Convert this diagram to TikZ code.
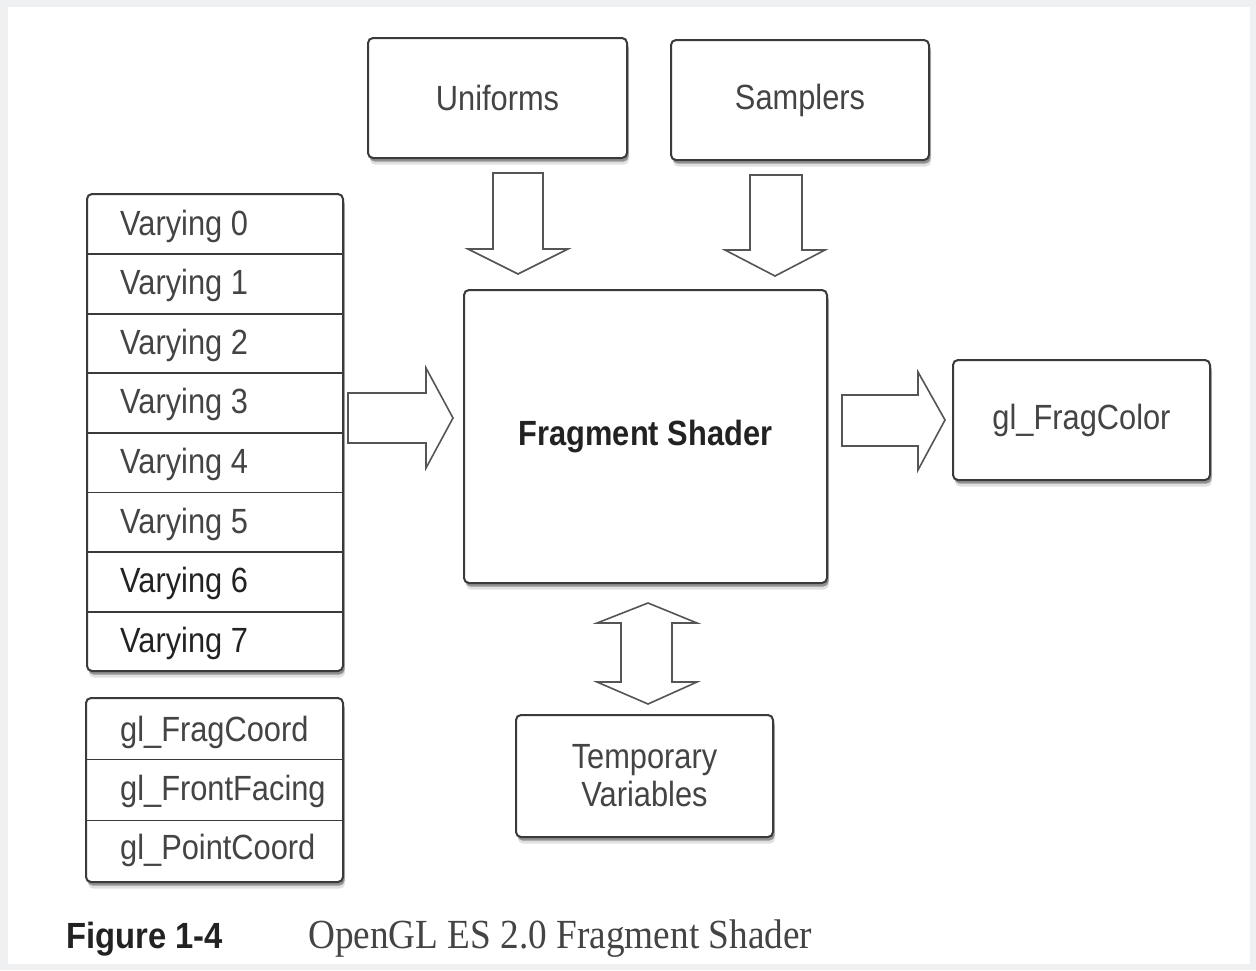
\documentclass[tikz,border=0pt]{standalone}
\usepackage{fontspec}
\setmainfont{Liberation Sans}
\newfontfamily\capserif[FakeStretch=0.9]{Liberation Serif}
\newfontfamily\capsans[FakeStretch=0.9]{Liberation Sans}
\newfontfamily\condsans[FakeStretch=0.88]{Liberation Sans}
\usetikzlibrary{shadows,calc}
\definecolor{bgout}{HTML}{EEF0F2}
\definecolor{boxline}{HTML}{3A3A3A}
\definecolor{arrline}{HTML}{555555}
\definecolor{txt}{HTML}{444444}
\definecolor{txtdark}{HTML}{222222}
\newcommand\boxfont{\condsans\fontsize{35}{38}\selectfont}
\tikzset{
  box/.style={draw=boxline, line width=2pt, rounded corners=5pt, fill=white, inner sep=0pt,
    text=txt, font=\boxfont, align=center,
    drop shadow={shadow xshift=2pt, shadow yshift=-6.5pt, opacity=0.12, fill=black},
    drop shadow={shadow xshift=1.5pt, shadow yshift=-3.5pt, opacity=0.35, fill=black}},
  rowcell/.style={draw=none, inner sep=0pt, anchor=north west},
  rowtext/.style={anchor=base west, inner sep=0pt, font=\boxfont},
  divline/.style={draw=boxline, line width=1.8pt},
  blk/.style={draw=arrline, line width=1.6pt, fill=white, line join=miter},
}
\begin{document}
\begin{tikzpicture}[x=1pt,y=-1pt]
\useasboundingbox (0,0) rectangle (1256,970);
\fill[bgout] (0,0) rectangle (1256,970);
\fill[white] (8,7) rectangle (1250,964);

% top boxes
\node[box, minimum width=259pt, minimum height=120pt] (unif) at (497.5,98) {Uniforms};
\node[box, minimum width=258pt, minimum height=120pt] (samp) at (800,100) {Samplers};

% fragment shader
\node[box, minimum width=363pt, minimum height=293pt, text=txtdark, font=\boxfont\bfseries] (frag) at (645.5,436.5) {Fragment Shader};

% output
\node[box, minimum width=257pt, minimum height=120pt] (fragcolor) at (1081.5,420) {gl\_FragColor};

% temporary
\node[box, minimum width=257pt, minimum height=122pt] (temp) at (644.5,776) {Temporary\\Variables};

% varying stack
\node[box, minimum width=256pt, minimum height=477pt] (varstack) at (215,432.5) {};
\foreach \i/\c in {0/txt,1/txt,2/txt,3/txt,4/txt,5/txt,6/txtdark,7/txtdark}{
  \pgfmathsetmacro\rtop{194+\i*59.625}
  \node[rowcell, minimum width=256pt, minimum height=59.625pt] (v\i) at (87,\rtop) {};
  \node[rowtext, text=\c] (vt\i) at ($(v\i.north west)+(33,41)$) {Varying \i};
}
\foreach \i in {0,...,6}{
  \draw[divline] (v\i.south west) -- (v\i.south east);
}

% built-in stack
\node[box, minimum width=257pt, minimum height=184pt] (glstack) at (214.5,790) {};
\node[rowcell, minimum width=257pt, minimum height=61pt] (g0) at (86,698) {};
\node[rowcell, minimum width=257pt, minimum height=61pt] (g1) at (86,759) {};
\node[rowcell, minimum width=257pt, minimum height=62pt] (g2) at (86,820) {};
\node[rowtext, text=txt] (gt0) at ($(g0.north west)+(34,43)$) {gl\_FragCoord};
\node[rowtext, text=txt] (gt1) at ($(g1.north west)+(34,41)$) {gl\_FrontFacing};
\node[rowtext, text=txt] (gt2) at ($(g2.north west)+(34,39)$) {gl\_PointCoord};
\draw[divline] (g0.south west) -- (g0.south east);
\draw[divline] (g1.south west) -- (g1.south east);

% block arrows
\draw[blk] (493,173) -- (543,173) -- (543,249) -- (568,249) -- (518,274) -- (468,249) -- (493,249) -- cycle;
\draw[blk] (750,175) -- (802,175) -- (802,250) -- (825,250) -- (775,276) -- (725,250) -- (750,250) -- cycle;
\draw[blk] (348,393) -- (426,393) -- (426,368) -- (453,418) -- (426,468) -- (426,443) -- (348,443) -- cycle;
\draw[blk] (842,395) -- (918,395) -- (918,372) -- (945,420) -- (918,470) -- (918,446) -- (842,446) -- cycle;
\draw[blk] (648,603) -- (697,623) -- (672,623) -- (672,682) -- (697,682) -- (648,704) -- (597,682) -- (621,682) -- (621,623) -- (597,623) -- cycle;

% caption
\node[anchor=base west, inner sep=0pt, text=txtdark, font=\capsans\bfseries\fontsize{36.4}{40}\selectfont] (figlbl) at (66,948) {Figure 1-4};
\node[anchor=base west, inner sep=0pt, text=txt, font=\capserif\fontsize{41.4}{44}\selectfont] (figcap) at (308,948) {OpenGL ES 2.0 Fragment Shader};
\end{tikzpicture}
\end{document}
